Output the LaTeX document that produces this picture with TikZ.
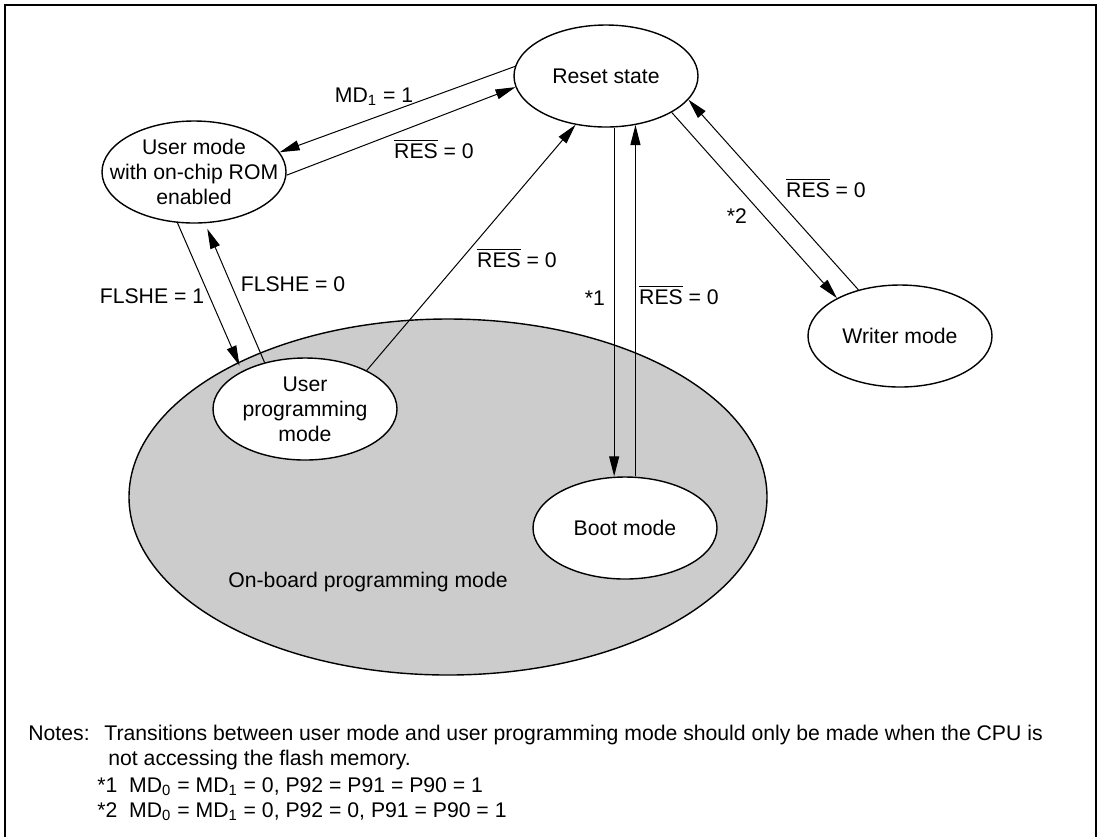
\documentclass[tikz,border=0pt]{standalone}
\usepackage{fontspec}
\setmainfont{Liberation Sans}
\usetikzlibrary{arrows.meta,shapes.geometric}
\definecolor{BoardGray}{HTML}{CCCCCC}
\newcommand{\RESbar}{$\overline{\mbox{RES}}$}

\begin{document}
\begin{tikzpicture}[
  x=0.5pt, y=-0.5pt,
  font=\fontsize{10.6pt}{12.5pt}\selectfont,
  mode/.style={
    draw, ellipse, line width=0.7pt, fill=white,
    minimum width=92pt, minimum height=51pt, inner sep=0pt
  },
  txt/.style={inner sep=0pt, align=center},
  lbl/.style={inner sep=0pt, anchor=base},
  notes/.style={inner sep=0pt, anchor=base west},
  trans/.style={-{Triangle[length=10pt,width=5pt]}, line width=0.5pt}
]
\useasboundingbox (0,0) rectangle (1101,837);

% Frame
\draw[line width=1pt] (5,837) |- (1096,5) -- (1096,837);

% On-board programming area
\node[draw, ellipse, line width=0.7pt, fill=BoardGray,
      minimum width=319pt, minimum height=178pt, inner sep=0pt]
  (onboard) at (448,497) {};
\node[lbl] (onboardtxt) at (368,587) {On-board programming mode};

% Modes
\node[mode] (reset) at (606,76) {};
\node[txt] (resettxt) at (reset) {Reset state};

\node[mode] (user) at (194,172) {};
\node[txt] (usertxt) at (user) {User mode\\with on-chip ROM\\enabled};

\node[mode] (userprog) at (305,409) {};
\node[txt] (userprogtxt) at (userprog) {User\\programming\\mode};

\node[mode] (boot) at (625,528) {};
\node[txt] (boottxt) at (boot) {Boot mode};

\node[mode] (writer) at (900,336) {};
\node[txt] (writertxt) at (writer) {Writer mode};

% Reset state <-> user mode
\draw[trans] (reset.174) -- (user.13);
\draw[trans] (user.358) -- (reset.187);
\node[lbl] (md1) at (374,102) {MD\textsubscript{1} = 1};
\node[lbl] (resuser) at (434,158) {\RESbar{} = 0};

% User mode <-> user programming mode
\draw[trans, shorten >=3pt] (user.252) -- (userprog.149);
\draw[trans, shorten >=3pt] (userprog.131) -- (user.282);
\node[lbl] (flshe1) at (152,303) {FLSHE = 1};
\node[lbl] (flshe0) at (293,291) {FLSHE = 0};

% User programming mode -> reset state
\draw[trans] (userprog.32) -- (reset.238);
\node[lbl] (resprog) at (517,267) {\RESbar{} = 0};

% Reset state <-> boot mode
\draw[trans] (reset.279) -- (reset.279 |- boot.north);
\draw[trans] (boot.north -| reset.301) -- (reset.301);
\node[lbl] (star1) at (595,305) {*1};
\node[lbl] (resboot) at (679,304) {\RESbar{} = 0};

% Reset state <-> writer mode
\draw[trans] (reset.331) -- (writer.149);
\draw[trans] (writer.132) -- (reset.344);
\node[lbl] (star2) at (737,223) {*2};
\node[lbl] (reswriter) at (826,197) {\RESbar{} = 0};

% Notes
\node[notes] (notehead) at (28,740) {Notes:};
\node[notes] (note1) at (104,740)
  {Transitions between user mode and user programming mode should only be made when the CPU is};
\node[notes] (note2) at (108,765) {not accessing the flash memory.};
\node[notes] (note3) at (97,792)
  {*1\ \ MD\textsubscript{0} = MD\textsubscript{1} = 0, P92 = P91 = P90 = 1};
\node[notes] (note4) at (97,817)
  {*2\ \ MD\textsubscript{0} = MD\textsubscript{1} = 0, P92 = 0, P91 = P90 = 1};

\end{tikzpicture}
\end{document}
